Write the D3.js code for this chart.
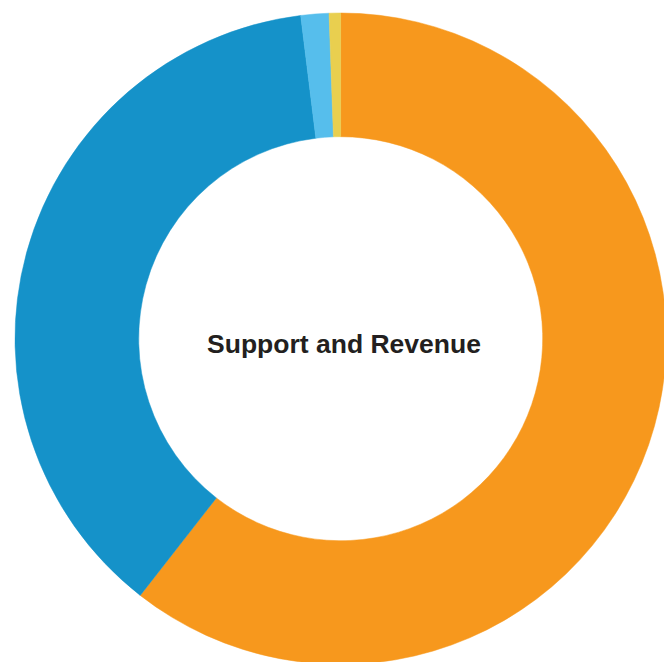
<!DOCTYPE html>
<html>
<head>
<meta charset="utf-8">
<script src="https://cdn.jsdelivr.net/npm/d3@7"></script>
<style>
  html, body { margin: 0; padding: 0; background: #ffffff; overflow: hidden; }
  svg { display: block; }
</style>
</head>
<body>
<svg id="chart" width="664" height="662"></svg>
<script>
// Data (percent shares), clockwise from 12 o'clock
const categories = ["Segment A", "Segment B", "Segment C", "Segment D"];
const values = [60.56, 37.49, 1.39, 0.57];
const colors = ["#F7981D", "#1592C9", "#56BEEC", "#E9CF4F"];
const centerTitle = "Support and Revenue";

const svg = d3.select("#chart");
const cx = 340.7, cy = 338.7;
const outerR = 325.7, innerR = 202;

const pie = d3.pie().sort(null).value(d => d.value);
const arc = d3.arc().innerRadius(innerR).outerRadius(outerR);

const data = categories.map((c, i) => ({ name: c, value: values[i], color: colors[i] }));

const g = svg.append("g").attr("transform", `translate(${cx},${cy})`);
g.selectAll("path")
  .data(pie(data))
  .join("path")
  .attr("d", arc)
  .attr("fill", d => d.data.color)
  .attr("stroke", d => d.data.color)
  .attr("stroke-width", 0.5);

svg.append("text")
  .attr("x", 344)
  .attr("y", 353)
  .attr("text-anchor", "middle")
  .attr("font-family", "Liberation Sans, Arial, Helvetica, sans-serif")
  .attr("font-weight", "bold")
  .attr("font-size", "26.5px")
  .attr("fill", "#231F20")
  .text(centerTitle);
</script>
</body>
</html>
